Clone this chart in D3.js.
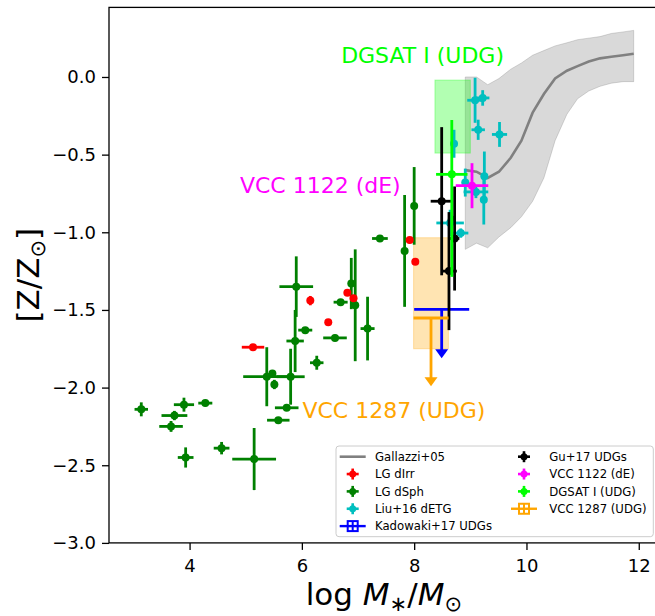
<!DOCTYPE html>
<html><head><meta charset="utf-8">
<script src="https://cdn.jsdelivr.net/npm/d3@7"></script>
<style>
body{margin:0;background:#fff}
svg{display:block}
text{font-family:"DejaVu Sans",sans-serif}
</style>
</head><body>
<svg id="c" width="655" height="616"></svg>
<script>
// ---------------- DATA ----------------
// Gallazzi+05 mass–metallicity relation (log M*, median, 16th, 84th percentiles)
const gallazziMass   = [8.91, 9.11, 9.31, 9.51, 9.72, 9.91, 10.11, 10.31, 10.51, 10.72, 10.91, 11.11, 11.31, 11.51, 11.72, 11.91];
const gallazziMedian = [-0.60, -0.61, -0.65, -0.61, -0.52, -0.41, -0.23, -0.11, -0.01, 0.04, 0.07, 0.10, 0.12, 0.13, 0.14, 0.15];
const gallazziLow    = [-1.11, -1.07, -1.10, -1.03, -0.97, -0.90, -0.80, -0.65, -0.41, -0.24, -0.14, -0.09, -0.06, -0.04, -0.03, -0.03];
const gallazziHigh   = [0.00, 0.00, -0.05, -0.01, 0.05, 0.09, 0.14, 0.17, 0.20, 0.22, 0.24, 0.25, 0.26, 0.28, 0.29, 0.30];

// [logM, Z, xerr, yerr]
const lgDsph = [
  [3.14, -2.14, 0.12, 0.045], [3.90, -2.11, 0.18, 0.045], [3.73, -2.18, 0.23, 0.03],
  [3.67, -2.25, 0.21, 0.035], [4.28, -2.10, 0.125, 0.02], [3.93, -2.45, 0.14, 0.065],
  [4.57, -2.39, 0.14, 0.04], [5.15, -2.46, 0.39, 0.20], [5.375, -1.93, 0.42, 0.19],
  [5.51, -1.98, 0.05, 0.03], [5.475, -1.91, 0.04, 0.02], [5.80, -1.93, 0.25, 0.18],
  [5.73, -2.13, 0.21, 0.02], [5.58, -2.21, 0.20, 0.02], [5.90, -1.35, 0.30, 0.195],
  [5.88, -1.70, 0.155, 0.20], [6.06, -1.63, 0.125, 0.02], [6.59, -1.68, 0.21, 0.02],
  [6.265, -1.84, 0.12, 0.045], [6.69, -1.45, 0.125, 0.02], [6.88, -1.33, 0.03, 0.165],
  [6.95, -1.47, 0.03, 0.36], [7.17, -1.62, 0.125, 0.205], [7.39, -1.04, 0.14, 0.02],
  [7.83, -1.12, 0.02, 0.36], [8.00, -0.83, 0.02, 0.25], [8.67, -0.92, 0.02, 0.03]
];
const lgDirr = [
  [5.13, -1.74, 0.20, 0.02], [6.15, -1.44, 0.03, 0.03], [6.47, -1.58, 0.03, 0.02],
  [6.81, -1.39, 0.03, 0.02], [6.92, -1.425, 0.03, 0.02], [7.92, -1.05, 0.03, 0.02],
  [8.02, -1.19, 0.03, 0.02]
];
const liu16 = [
  [9.085, -0.15, 0.14, 0.145], [9.22, -0.135, 0.12, 0.05], [9.14, -0.34, 0.12, 0.065],
  [9.52, -0.37, 0.135, 0.08], [8.71, -0.43, 0.04, 0.09], [9.25, -0.64, 0.05, 0.16],
  [8.91, -0.68, 0.04, 0.09], [9.10, -0.74, 0.22, 0.04], [9.24, -0.79, 0.04, 0.16],
  [8.64, -0.94, 0.245, 0.085], [8.83, -1.005, 0.135, 0.03]
];
const gu17 = [
  [8.49, -0.80, 0.196, 0.477], [8.62, -1.25, 0.14, 0.38], [8.72, -1.04, 0.085, 0.335]
];
const vcc1122 = [[9.03, -0.70, 0.29, 0.145]];
// [logM, Z, xerr, yerrUp, yerrDown]
const dgsat1 = [[8.67, -0.627, 0.28, 0.35, 0.66]];
// boxes: [x0, x1, y0, y1]
const dgsat1Box  = [8.37, 9.00, -0.49, -0.02];
const vcc1287Box = [7.99, 8.61, -1.75, -1.035];
// upper limits: [logM, Z, xerr, arrowLength]
const kadowaki17 = [[8.49, -1.496, 0.49, 0.315]];
const vcc1287    = [[8.30, -1.552, 0.312, 0.44]];

const xTicks = [4, 6, 8, 10, 12];
const yTicks = [0.0, -0.5, -1.0, -1.5, -2.0, -2.5, -3.0];

const legendCol1 = ["Gallazzi+05", "LG dIrr", "LG dSph", "Liu+16 dETG", "Kadowaki+17 UDGs"];
const legendCol2 = ["Gu+17 UDGs", "VCC 1122 (dE)", "DGSAT I (UDG)", "VCC 1287 (UDG)"];

// ---------------- CHART ----------------
const svg = d3.select("#c");
const L = 109, R = 658.7, T = 7.4, B = 542.9;
const x = d3.scaleLinear().domain([2.565, 12.355]).range([L, R]);
const y = d3.scaleLinear().domain([-3.0, 0.448]).range([B, T]);

const C = {dirr:"#ff0000", dsph:"#008000", liu:"#00bfbf", gu:"#000000", vcc1122:"#ff00ff",
           dgsat:"#00ff00", vcc1287:"#ffa500", kad:"#0000ff", gal:"#808080"};
const EW = 2.8, MR = 4;

const plot = svg.append("g");

// Gallazzi band
const galIdx = d3.range(gallazziMass.length);
plot.append("path")
  .attr("d", d3.area().x(i => x(gallazziMass[i])).y0(i => y(gallazziLow[i])).y1(i => y(gallazziHigh[i]))(galIdx))
  .attr("fill", "#808080").attr("fill-opacity", 0.3)
  .attr("stroke", "#808080").attr("stroke-opacity", 0.3).attr("stroke-width", 1);
plot.append("path")
  .attr("d", d3.line().x(i => x(gallazziMass[i])).y(i => y(gallazziMedian[i]))(galIdx))
  .attr("fill", "none").attr("stroke", C.gal).attr("stroke-width", 2.6);

// boxes
function box(b, color) {
  plot.append("rect")
    .attr("x", x(b[0])).attr("width", x(b[1]) - x(b[0]))
    .attr("y", y(b[3])).attr("height", y(b[2]) - y(b[3]))
    .attr("fill", color).attr("fill-opacity", 0.3)
    .attr("stroke", color).attr("stroke-opacity", 0.3).attr("stroke-width", 1);
}
box(dgsat1Box, C.dgsat);
box(vcc1287Box, C.vcc1287);

function errbars(pts, color) {
  const g = plot.append("g");
  pts.forEach(p => {
    const [px, py, xe] = p;
    const up = p.length > 4 ? p[3] : p[3], dn = p.length > 4 ? p[4] : p[3];
    g.append("line").attr("x1", x(px - xe)).attr("x2", x(px + xe)).attr("y1", y(py)).attr("y2", y(py))
      .attr("stroke", color).attr("stroke-width", EW);
    g.append("line").attr("x1", x(px)).attr("x2", x(px)).attr("y1", y(py + up)).attr("y2", y(py - dn))
      .attr("stroke", color).attr("stroke-width", EW);
  });
  pts.forEach(p => {
    g.append("circle").attr("cx", x(p[0])).attr("cy", y(p[1])).attr("r", MR).attr("fill", color);
  });
}
function upperLimits(pts, color) {
  const g = plot.append("g");
  pts.forEach(([px, py, xe, len]) => {
    const cx = x(px), cy = y(py), tip = y(py - len);
    g.append("line").attr("x1", x(px - xe)).attr("x2", x(px + xe)).attr("y1", cy).attr("y2", cy)
      .attr("stroke", color).attr("stroke-width", EW);
    g.append("line").attr("x1", cx).attr("x2", cx).attr("y1", cy).attr("y2", tip - 5)
      .attr("stroke", color).attr("stroke-width", EW);
    g.append("path").attr("d", `M${cx - 6.5},${tip - 9}L${cx + 6.5},${tip - 9}L${cx},${tip}Z`).attr("fill", color);
  });
}

errbars(lgDsph, C.dsph);
errbars(lgDirr, C.dirr);
errbars(liu16, C.liu);
upperLimits(kadowaki17, C.kad);
errbars(gu17, C.gu);
errbars(vcc1122, C.vcc1122);
errbars(dgsat1, C.dgsat);
upperLimits(vcc1287, C.vcc1287);

// annotations
plot.append("text").attr("x", x(9.60)).attr("y", y(0.092)).attr("text-anchor", "end")
  .attr("font-size", 22).attr("fill", C.dgsat).text("DGSAT I (UDG)");
plot.append("text").attr("x", x(7.76)).attr("y", y(-0.749)).attr("text-anchor", "end")
  .attr("font-size", 22).attr("fill", C.vcc1122).text("VCC 1122 (dE)");
plot.append("text").attr("x", x(6.01)).attr("y", y(-2.198)).attr("text-anchor", "start")
  .attr("font-size", 22).attr("fill", C.vcc1287).text("VCC 1287 (UDG)");

// axes
const fmtY = d => d3.format(".1f")(d).replace("-", "\u2212");
const xAxis = svg.append("g").attr("transform", `translate(0,${B})`)
  .call(d3.axisBottom(x).tickValues(xTicks).tickSize(7).tickPadding(9).tickFormat(d3.format("d")));
const yAxis = svg.append("g").attr("transform", `translate(${L},0)`)
  .call(d3.axisLeft(y).tickValues(yTicks).tickSize(7).tickPadding(6).tickFormat(fmtY));
[xAxis, yAxis].forEach(a => {
  a.select(".domain").remove();
  a.selectAll(".tick line").attr("stroke", "#000").attr("stroke-width", 1.3);
  a.selectAll(".tick text").attr("font-size", 18).attr("fill", "#000").attr("font-family", "DejaVu Sans");
});
// spines
svg.append("rect").attr("x", L).attr("y", T).attr("width", R - L).attr("height", B - T)
  .attr("fill", "none").attr("stroke", "#000").attr("stroke-width", 1.3);

// axis labels
const xl = svg.append("text").attr("x", (L + R) / 2).attr("y", 605).attr("text-anchor", "middle")
  .attr("font-size", 31).attr("fill", "#000");
xl.append("tspan").text("log ");
xl.append("tspan").attr("font-style", "italic").text("M");
xl.append("tspan").attr("font-size", 21).attr("dy", 6).text("\u2217");
xl.append("tspan").attr("dy", -6).text("/");
xl.append("tspan").attr("font-style", "italic").text("M");
xl.append("tspan").attr("font-size", 21).attr("dy", 6).text("\u2299");

const yl = svg.append("text").attr("transform", `translate(39,${(T + B) / 2}) rotate(-90)`)
  .attr("text-anchor", "middle").attr("font-size", 31).attr("fill", "#000");
yl.append("tspan").text("[Z/Z");
yl.append("tspan").attr("font-size", 21).attr("dy", 6).text("\u2299");
yl.append("tspan").attr("dy", -6).text("]");

// legend
const lg = svg.append("g");
const LX0 = 336, LY0 = 446, LX1 = 653.3, LY1 = 536.7;
lg.append("rect").attr("x", LX0).attr("y", LY0).attr("width", LX1 - LX0).attr("height", LY1 - LY0)
  .attr("rx", 3).attr("fill", "#fff").attr("fill-opacity", 0.8).attr("stroke", "#cccccc").attr("stroke-width", 1);
const rowY = i => 456.7 + i * 17.35;
const col = [{hx: 352.7, tx: 375}, {hx: 524, tx: 549.3}];
const legendColors1 = [C.gal, C.dirr, C.dsph, C.liu, C.kad];
const legendColors2 = [C.gu, C.vcc1122, C.dgsat, C.vcc1287];
function crossHandle(cx, cy, color) {
  lg.append("line").attr("x1", cx - 6).attr("x2", cx + 6).attr("y1", cy).attr("y2", cy).attr("stroke", color).attr("stroke-width", 2.6);
  lg.append("line").attr("x1", cx).attr("x2", cx).attr("y1", cy - 5.5).attr("y2", cy + 5.5).attr("stroke", color).attr("stroke-width", 2.6);
  lg.append("circle").attr("cx", cx).attr("cy", cy).attr("r", 3.5).attr("fill", color);
}
function limitHandle(cx, cy, color) {
  lg.append("line").attr("x1", cx - 13).attr("x2", cx + 13).attr("y1", cy).attr("y2", cy).attr("stroke", color).attr("stroke-width", 2.4);
  lg.append("rect").attr("x", cx - 5).attr("y", cy - 5).attr("width", 10).attr("height", 10).attr("fill", "none").attr("stroke", color).attr("stroke-width", 2);
  lg.append("line").attr("x1", cx).attr("x2", cx).attr("y1", cy - 5).attr("y2", cy + 5).attr("stroke", color).attr("stroke-width", 2);
}
legendCol1.forEach((t, i) => {
  const cy = rowY(i), cx = col[0].hx;
  if (i === 0) lg.append("line").attr("x1", cx - 13).attr("x2", cx + 13).attr("y1", cy).attr("y2", cy).attr("stroke", C.gal).attr("stroke-width", 2.6);
  else if (i === 4) limitHandle(cx, cy, legendColors1[i]);
  else crossHandle(cx, cy, legendColors1[i]);
  lg.append("text").attr("x", col[0].tx).attr("y", cy).attr("dy", "0.36em").attr("font-size", 11.7).attr("fill", "#000").text(t);
});
legendCol2.forEach((t, i) => {
  const cy = rowY(i), cx = col[1].hx;
  if (i === 3) limitHandle(cx, cy, legendColors2[i]);
  else crossHandle(cx, cy, legendColors2[i]);
  lg.append("text").attr("x", col[1].tx).attr("y", cy).attr("dy", "0.36em").attr("font-size", 11.7).attr("fill", "#000").text(t);
});
</script>
</body></html>
